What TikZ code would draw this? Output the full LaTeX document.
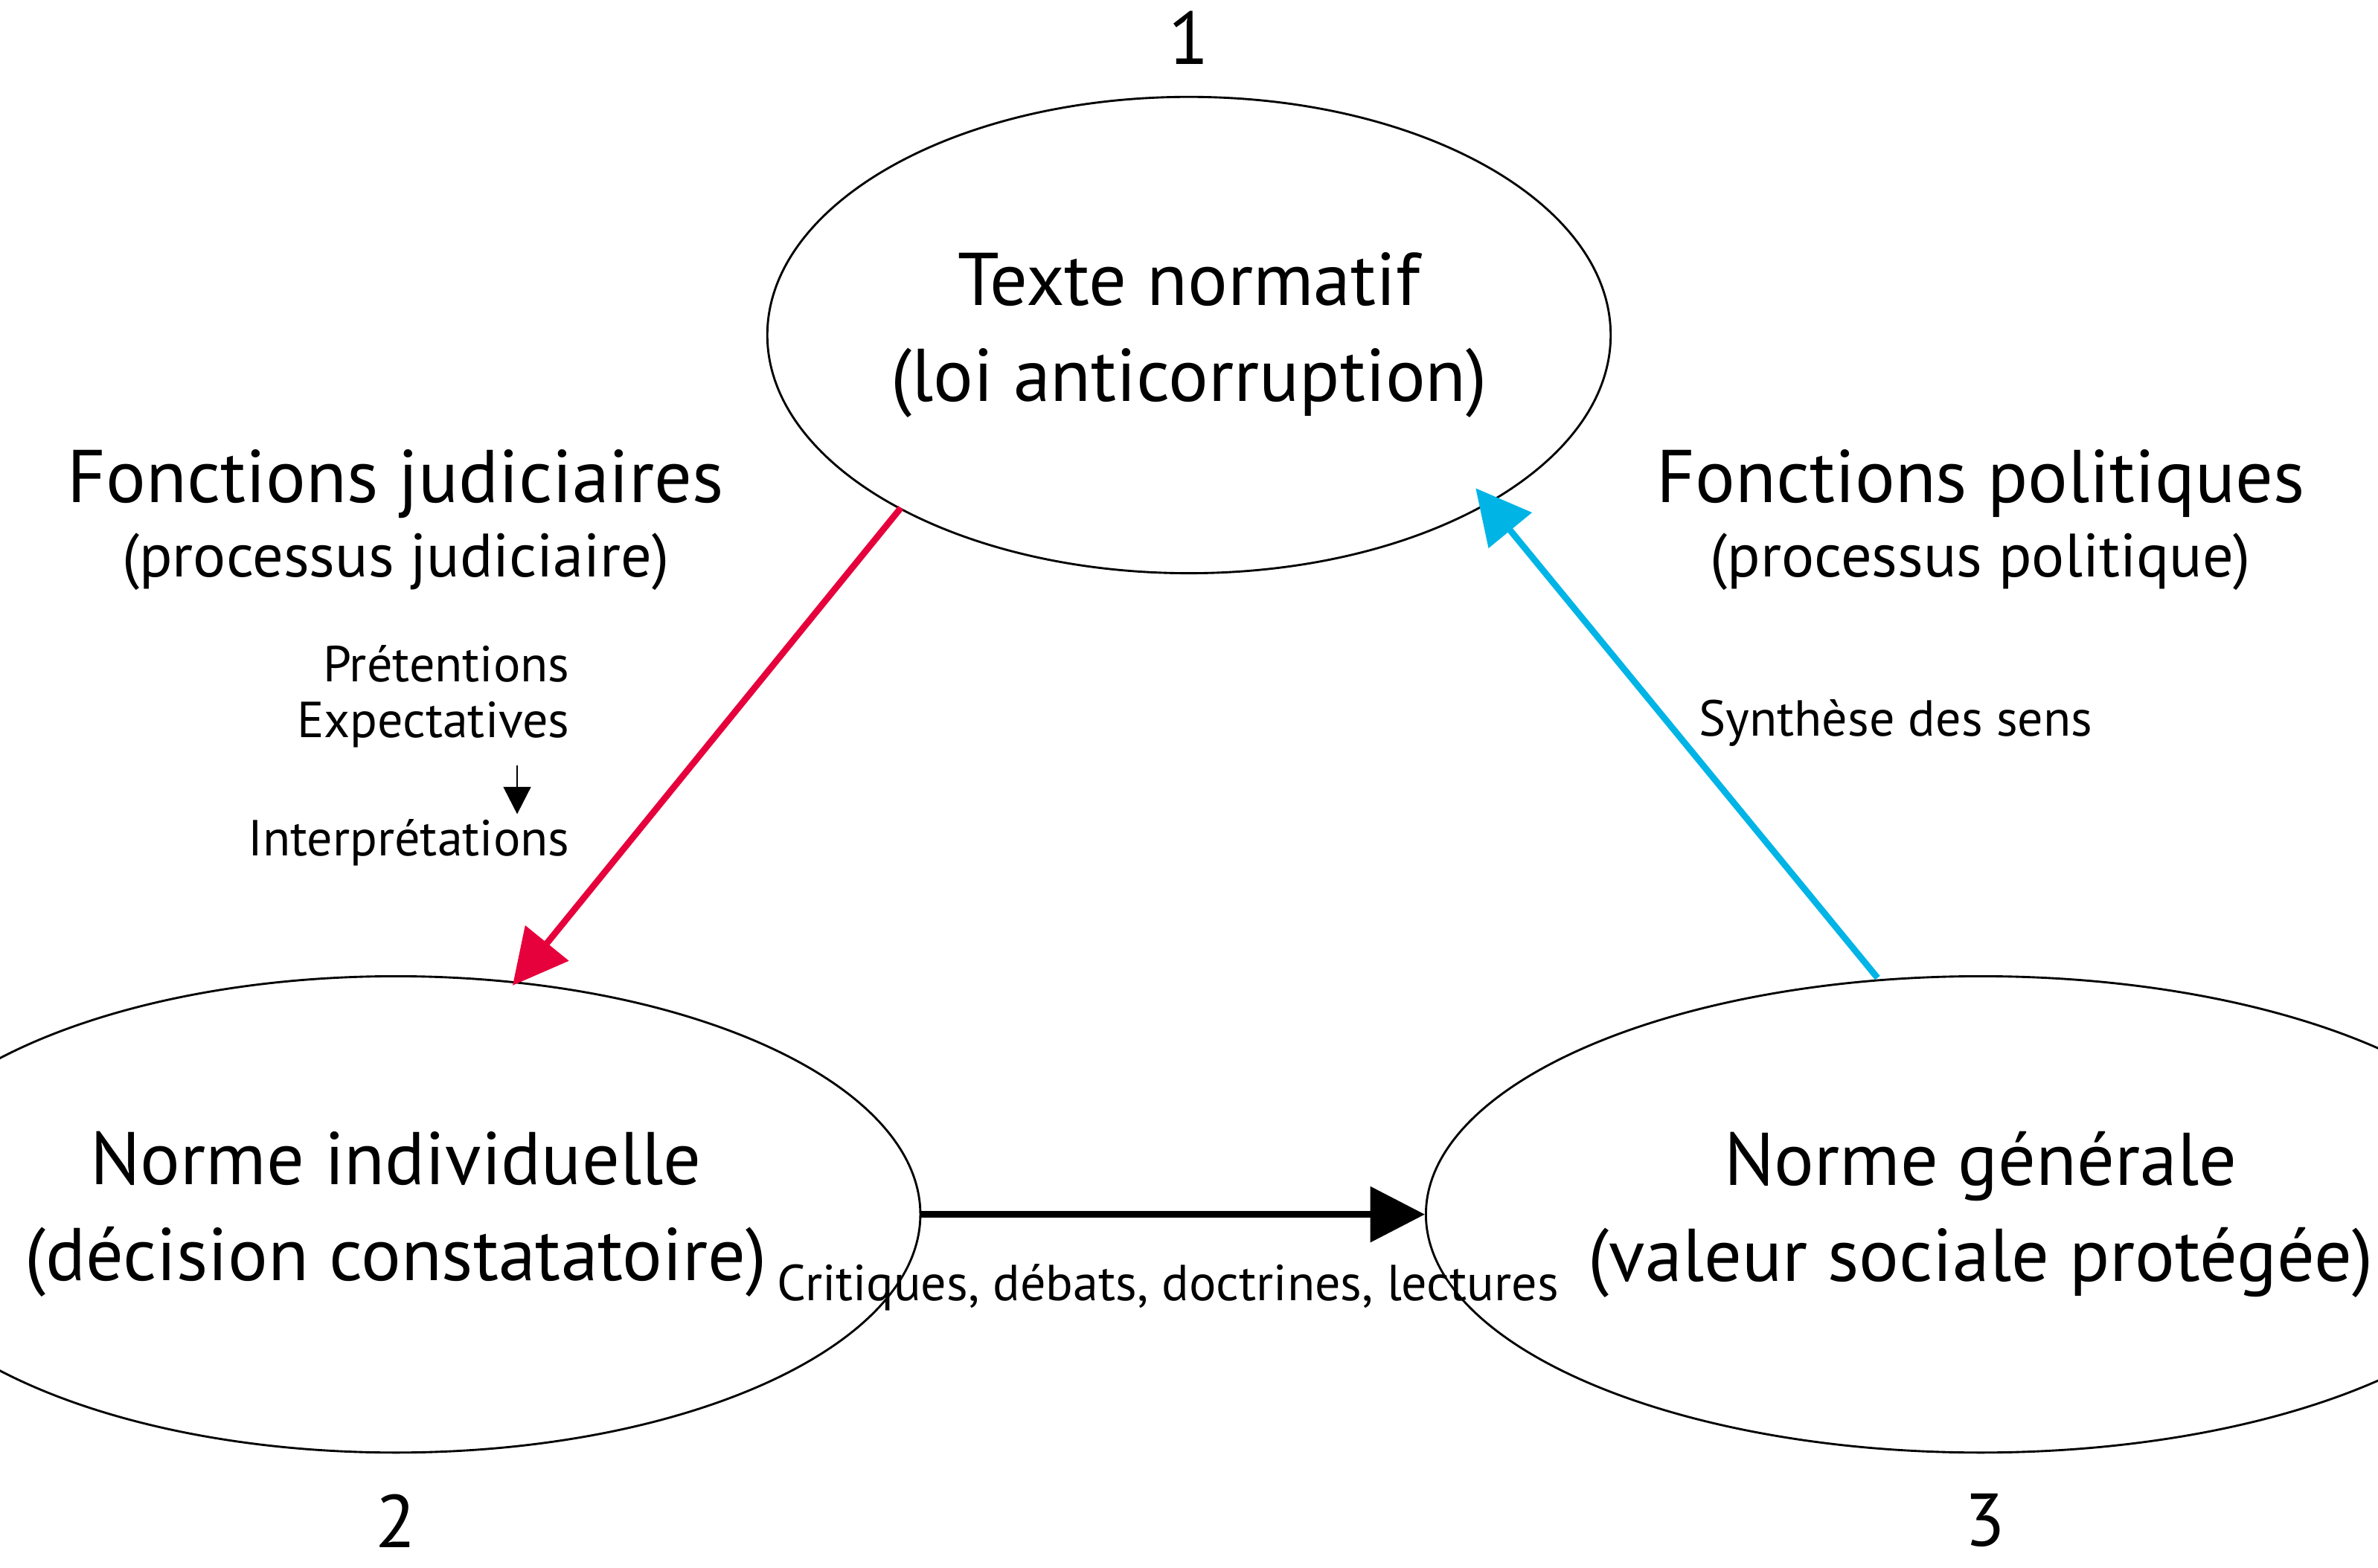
\documentclass[tikz,border=0pt]{standalone}
\usepackage{fontspec}
\setmainfont{PT Sans}
\usetikzlibrary{arrows.meta,shapes.geometric}
\definecolor{redarrow}{RGB}{230,0,60}
\definecolor{bluearrow}{RGB}{0,180,230}
\begin{document}
\begin{tikzpicture}[x=0.01cm,y=-0.01cm,
    norm/.style={draw,ellipse,inner sep=0pt,minimum width=5.2cm,minimum height=3.14cm,
        align=center,font=\fontsize{14}{18}\selectfont},
    big/.style={align=center,font=\fontsize{14}{16}\selectfont},
    small/.style={font=\fontsize{9.5}{11}\selectfont},
    link/.style={line width=1.2pt,-{Triangle[length=3.6mm,width=3.6mm]}}]
    \useasboundingbox (0,0) rectangle (1568,1034);
    \node[norm,minimum width=5.22cm] (texte) at (784,221)
        {Texte normatif\\(loi anticorruption)};
    \node[norm] (indiv) at (261,801)
        {Norme individuelle\\(décision constatatoire)};
    \node[norm] (gen) at (1306,801)
        {Norme générale\\(valeur sociale protégée)};
    \node[big] (n1) at (784,25) {1};
    \node[big] (n2) at (261,1003) {2};
    \node[big] (n3) at (1309,1003) {3};
    \node[big] (jud) at (261,343)
        {Fonctions judiciaires\\[-2pt]\fontsize{11.5}{14}\selectfont(processus judiciaire)};
    \node[big] (pol) at (1306,343)
        {Fonctions politiques\\[-2pt]\fontsize{11.5}{14}\selectfont(processus politique)};
    \node[small,anchor=east] (pret) at (388,438) {Prétentions};
    \node[small,anchor=east] (expe) at (388,478) {Expectatives};
    \node[small,anchor=east] (inter) at (388,556) {Interprétations};
    \coordinate (pa) at (341,505);
    \coordinate (pb) at (341,537);
    \draw[-{Triangle[length=1.8mm,width=1.8mm]}] (pa) -- (pb);
    \node[small] (synth) at (1250,477) {Synthèse des sens};
    \node[small] (crit) at (770,849) {Critiques, débats, doctrines, lectures};
    % connectors
    \coordinate (ra) at (594,335);
    \coordinate (rb) at (338,650);
    \coordinate (ba) at (1238,645);
    \coordinate (bb) at (973,322);
    \draw[link,redarrow] (ra) -- (rb);
    \draw[link,bluearrow] (ba) -- (bb);
    \draw[link] (indiv.east) -- (gen.west);
\end{tikzpicture}
\end{document}
